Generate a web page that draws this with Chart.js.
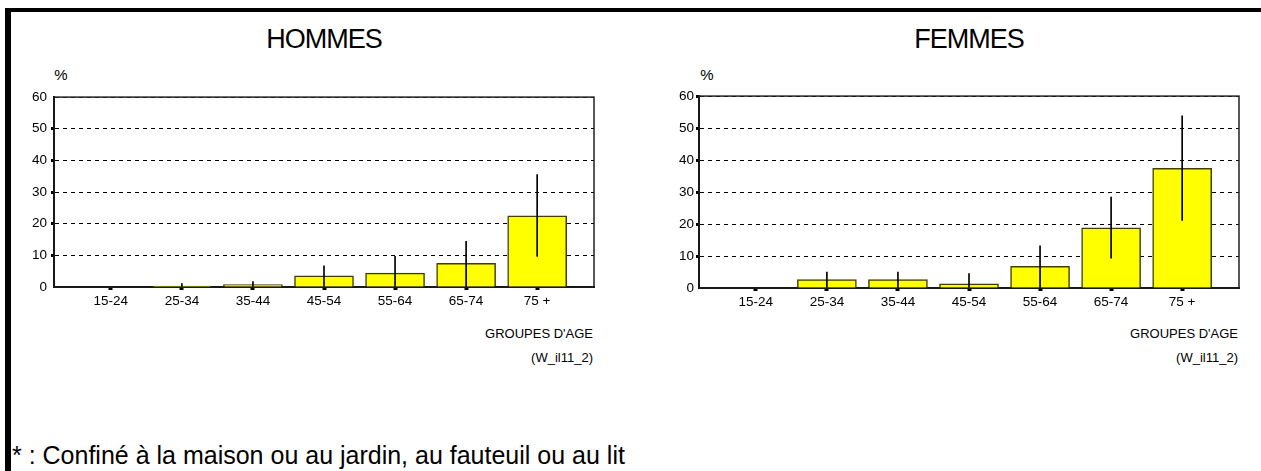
<!DOCTYPE html>
<html lang="fr">
<head>
<meta charset="UTF-8">
<title>Confinés par groupe d'âge</title>
<script src="https://cdn.jsdelivr.net/npm/chart.js"></script>
<style>
  body {
    margin: 0;
    width: 1261px;
    height: 471px;
    overflow: hidden;
    position: relative;
    background: #fff;
    color: #000;
    font-family: "Liberation Sans", Arial, sans-serif;
  }
  #frame {
    position: absolute;
    left: 5px;
    top: 8px;
    width: 1300px;
    height: 500px;
    border-top: 4px solid #000;
    border-left: 6px solid #000;
  }
  .title {
    position: absolute;
    top: 23px;
    width: 300px;
    text-align: center;
    font-size: 27px;
    line-height: 32px;
    letter-spacing: -1px;
  }
  .pct {
    position: absolute;
    top: 66px;
    width: 20px;
    text-align: center;
    font-size: 15px;
    line-height: 18px;
  }
  .note {
    position: absolute;
    font-size: 13px;
    line-height: 16px;
    text-align: right;
    white-space: nowrap;
  }
  canvas { position: absolute; }
  #foot {
    position: absolute;
    left: 12px;
    top: 440px;
    font-size: 25px;
    line-height: 30px;
    white-space: nowrap;
  }
</style>
</head>
<body>
<div id="frame"></div>

<div class="title" style="left:174px">HOMMES</div>
<div class="title" style="left:819px">FEMMES</div>
<div class="pct" style="left:51px">%</div>
<div class="pct" style="left:697px">%</div>

<canvas id="chartH" width="630" height="235" style="left:0px; top:85px"></canvas>
<canvas id="chartF" width="616" height="235" style="left:645px; top:86px"></canvas>

<div class="note" style="right:668px; top:326px">GROUPES D'AGE</div>
<div class="note" style="right:668px; top:350px">(W_il11_2)</div>
<div class="note" style="right:23px; top:326px">GROUPES D'AGE</div>
<div class="note" style="right:23px; top:350px">(W_il11_2)</div>

<div id="foot">* : Confiné à la maison ou au jardin, au fauteuil ou au lit</div>

<script>
const categories = ['15-24', '25-34', '35-44', '45-54', '55-64', '65-74', '75 +'];
const yTicks = [0, 10, 20, 30, 40, 50, 60];

// % par groupe d'age, avec bornes de l'intervalle de confiance
const hommes = [0, 0.3, 0.75, 3.5, 4.4, 7.5, 22.5];
const hommesLow = [0, 0, 0, 0, 0, 0, 9.7];
const hommesHigh = [0, 1.1, 1.7, 6.7, 9.7, 14.4, 35.5];

const femmes = [0, 2.6, 2.6, 1.3, 6.8, 18.8, 37.4];
const femmesLow = [0, 0, 0, 0, 0, 9.3, 21.1];
const femmesHigh = [0, 5.0, 5.0, 4.5, 13.2, 28.4, 53.8];

const FONT = '"Liberation Sans", Arial, sans-serif';

// cadre autour de la zone de tracé
const plotBox = {
    id: 'plotBox',
    beforeDatasetsDraw(chart) {
        const { ctx, chartArea: a } = chart;
        ctx.save();
        ctx.strokeStyle = '#222';
        ctx.lineWidth = 1.5;
        ctx.strokeRect(a.left, a.top, a.right - a.left, a.bottom - a.top);
        ctx.restore();
    }
};

function makeChart(id, values, low, high, padRight, labelPad, hiddenTicks) {
    return new Chart(document.getElementById(id), {
        type: 'bar',
        data: {
            datasets: [
                {
                    data: categories.map((c, i) => ({ x: i, y: [low[i], high[i]] })),
                    backgroundColor: '#000',
                    borderWidth: 0,
                    barThickness: 1,
                    grouped: false,
                    order: 0
                },
                {
                    data: categories.map((c, i) => ({ x: i, y: values[i] })),
                    backgroundColor: '#ffff00',
                    borderColor: '#3f3f00',
                    borderWidth: 1.5,
                    barThickness: 59,
                    grouped: false,
                    order: 1
                }
            ]
        },
        options: {
            responsive: false,
            animation: false,
            devicePixelRatio: 1,
            layout: { padding: { top: 9, right: padRight, left: 0, bottom: 0 } },
            plugins: {
                legend: { display: false },
                tooltip: { enabled: false }
            },
            scales: {
                x: {
                    type: 'linear',
                    min: -0.8,
                    max: 6.8,
                    offset: false,
                    afterBuildTicks: s => { s.ticks = categories.map((c, i) => ({ value: i })); },
                    afterFit: s => { s.height = 33; },
                    ticks: {
                        callback: v => categories[v],
                        font: { family: FONT, size: 13.5 },
                        color: '#000',
                        padding: 3,
                        autoSkip: false,
                        maxRotation: 0
                    },
                    grid: {
                        offset: false,
                        drawOnChartArea: false,
                        drawTicks: true,
                        tickLength: 3,
                        tickWidth: 4,
                        tickColor: '#000'
                    },
                    border: { color: '#000', width: 2 }
                },
                y: {
                    min: 0,
                    max: 60,
                    afterBuildTicks: s => { s.ticks = yTicks.map(v => ({ value: v })); },
                    afterFit: s => { s.width = 54; },
                    ticks: {
                        font: { family: FONT, size: 13.5 },
                        color: '#000',
                        padding: labelPad
                    },
                    grid: {
                        color: '#000',
                        lineWidth: 1,
                        tickLength: 3,
                        tickWidth: 3,
                        tickBorderDash: [],
                        tickColor: ctx => (ctx.tick && hiddenTicks.includes(ctx.tick.value)) ? 'rgba(0,0,0,0)' : '#000'
                    },
                    border: { color: '#000', width: 2, dash: [4, 4] }
                }
            }
        },
        plugins: [plotBox]
    });
}

makeChart('chartH', hommes, hommesLow, hommesHigh, 36, 4, [0, 60]);
makeChart('chartF', femmes, femmesLow, femmesHigh, 22, 2, [0]);
</script>
</body>
</html>
